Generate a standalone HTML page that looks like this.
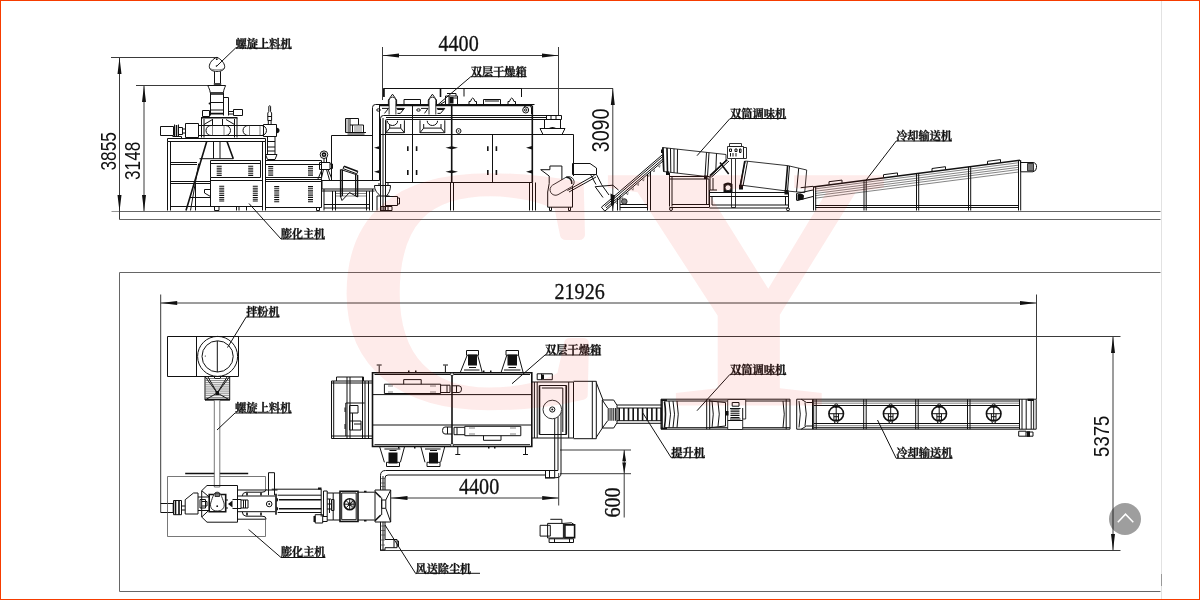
<!DOCTYPE html>
<html lang="zh">
<head>
<meta charset="utf-8">
<title>膨化食品生产线布置图</title>
<style>
html,body{margin:0;padding:0;background:#fff;}
body{width:1200px;height:600px;overflow:hidden;position:relative;font-family:"Liberation Sans","Noto Sans CJK SC",sans-serif;}
#frame{position:absolute;left:0;top:0;width:1198px;height:598px;border:1px solid #f63c00;}
#edge{position:absolute;left:1161px;top:1px;width:1px;height:598px;background:#e2e2e2;}
#edgemark{position:absolute;left:1161px;top:574px;width:1px;height:12px;background:#999;}
#totop{position:absolute;left:1109px;top:503px;width:32px;height:32px;border-radius:16px;background:rgba(0,0,0,.38);}
svg{position:absolute;left:0;top:0;will-change:transform;}
.l{fill:none;stroke:#111;stroke-width:1;}
.t{fill:none;stroke:#333;stroke-width:.6;}
.k{fill:#111;stroke:none;}
.v{fill:none;stroke:#111;stroke-dasharray:1 .85;}
.d{fill:none;stroke:#111;stroke-width:1.6;}
.g{fill:#777;stroke:#111;stroke-width:.8;}
.w{fill:#fff;stroke:#1c1c1c;stroke-width:.9;}
.cn{font-family:"Liberation Serif","Noto Serif CJK SC",serif;font-weight:700;font-size:11.4px;fill:#111;stroke:#111;stroke-width:.3;}
.ds{font-family:"Liberation Serif",serif;fill:#111;stroke:#111;stroke-width:.3;}
.dn{font-family:"Liberation Sans",sans-serif;fill:#111;}
.wm{font-family:"Liberation Serif",serif;fill:#f02010;}
</style>
</head>
<body>
<svg id="dwg" width="1200" height="600" viewBox="0 0 1200 600">
<!-- FRAMES -->
<g id="frames" class="l" style="stroke:#666">
<path d="M119.5 211.5H1160.5M119.500 219.5H1160.5"/><path d="M111.500 211.500H119.500" stroke-width=".7"/>
<path d="M1160.5 272.500H119.500V591.5H1160.5"/>
</g>
<!-- DIMENSIONS -->
<g id="dims">
<g class="l" style="stroke:#3a3a3a">
<path d="M111 57.500H218M119.5 57.500V219.5"/>
<path d="M136 85.500H210M144 85.500V211"/>
<path d="M382.500 47V100M558.500 47V116M382.500 55.500H558.500"/>
<path d="M521 88.500H613M612.800 88.500V211"/>
<path d="M160.700 294.5V512.500M1036.500 294.5V399M160.700 303H1036.500"/>
<path d="M238 336.500H1120.5M380 550.500H1120.5M1113 336.500V550.500"/>
<path d="M391 498H558.7M558.7 473V505.5M560 450H631M560 473.7H631M624.2 450V517.5"/>
</g>
</g>
<g id="dimtext">
<text class="ds" transform="translate(438.5 51) scale(.89 1)" font-size="22.6">4400</text>
<text class="ds" transform="translate(554.5 299) scale(.89 1)" font-size="22.6">21926</text>
<text class="ds" transform="translate(459 493.7) scale(.89 1)" font-size="22.6">4400</text>
<text class="ds" transform="translate(620 517.5) rotate(-90) scale(.89 1)" font-size="22.6">600</text>
<text class="dn" transform="translate(116 170.5) rotate(-90) scale(.8 1)" font-size="21.6">3855</text>
<text class="dn" transform="translate(140 180) rotate(-90) scale(.8 1)" font-size="21.6">3148</text>
<text class="dn" transform="translate(609.4 152.3) rotate(-90) scale(.83 1)" font-size="23.7">3090</text>
<text class="dn" transform="translate(1108.7 456.9) rotate(-90) scale(.86 1)" font-size="21.6">5375</text>
</g>
<g id="arrows" class="k">
<path d="M119.5 57.500l-2 16.5h4zM119.5 211.500l-2-16.5h4zM144 85.500l-2 16.5h4zM144 211.500l-2-16.5h4z"/>
<path d="M382.500 55.500l16.5-2v4zM558.500 55.500l-16.5-2v4z"/>
<path d="M612.800 88.500l-2 16.5h4zM612.800 211.500l-2-16.5h4z"/>
<path d="M160.7 303l16.5-2v4zM1036.500 303l-16.5-2v4z"/>
<path d="M1113 336.500l-2 16.5h4zM1113 550.500l-2-16.5h4z"/>
<path d="M391 498l16.5-2v4zM558.7 498l-16.5-2v4z"/>
<path d="M624.2 450l-2.1 12.500h4.2zM624.2 473.7l-2.100-12.500h4.200z"/>
</g>
<!-- LABELS -->
<!-- MACHINES -->
<!-- m_01_extruder_elev.svg -->
<g id="extruder-elev">
<!-- screw feeder head and hopper -->
<path class="l" d="M216.8 57.4C213 58.5 209.2 63 209.3 66.6C209.5 70.2 213 71.4 217 71.4C221 71.4 224.6 70.2 224.7 66.6C224.6 63 220.5 58.5 216.8 57.4Z"/>
<path class="t" d="M210 68.5C212 70.3 222 70.3 224 68.5"/>
<circle class="k" cx="216.8" cy="59.2" r=".9"/><circle class="k" cx="216.4" cy="66" r=".7"/>
<path class="l" d="M214.5 71.4V83M220.5 71.4V83"/>
<path class="d" d="M213.8 84H221.2"/>
<path class="l" d="M207.8 85.5H225.6C224.6 88 223.6 90 223.4 92.7H210.2C210 90 208.8 88 207.8 85.5Z"/>
<path class="l" d="M210.5 92.7V115.5M223.5 92.7V115.5M210.5 102.5H223.5M210.5 110H223.5"/>
<path class="d" d="M210.5 94H223.5M210.5 113.6H223.5"/>
<path class="l" d="M223.5 97.5H228.5V115.5M233.5 109.5H242.5V115.5H233.5ZM229 111.5H233.5M229 114H233.5M202.5 110.5H209.5V116.5H202.5Z"/>
<circle class="k" cx="209.6" cy="103.5" r="1"/>
<!-- feeder stand -->
<path class="d" d="M201 117.8H237.5"/>
<path class="l" d="M201.5 118V137.5M204 119V137.5M234.5 119V137.5M237 118V137.5M204 124.5L212.5 119.5M234.5 124.5L226 119.5M212.5 119V125M222.5 119V125"/>
<!-- barrel -->
<path class="l" d="M160.5 126.5H173.5V135.5H160.5ZM174.5 124.5V137M178.5 124.5V137M178.5 127.5H182.5V134.5H178.5M182.5 129H186M182.5 133H186M172.5 136.5H181.5V138.5"/>
<path class="d" d="M176.5 125V136.5"/>
<path class="l" d="M185.5 123.5H198.5V137.5H185.5ZM198.5 125.5H263.5M198.5 135.5H263.5"/>
<path class="l" d="M211 125.5H225.5A5 5 0 0 1 225.5 135.5H211A5 5 0 0 1 211 125.5ZM248 125.5H261.5A5 5 0 0 1 261.5 135.5H248A5 5 0 0 1 248 125.5Z"/>
<path class="t" d="M212.5 125.5V135.5M224 125.5V135.5M249.5 125.5V135.5M260 125.5V135.5"/>
<path class="l" d="M263.5 124.5H276.5V136.5H263.5Z"/>
<path class="k" d="M276.5 127.5C280.5 128 280.5 133 276.5 133.5Z"/>
<!-- relief valve -->
<path class="l" d="M268.8 106.5C268.8 105.5 270.6 105.5 270.6 106.5V111.5L271.6 113V120.5H267.8V113L268.8 111.5ZM268.3 120.5V124.5M271.1 120.5V124.5M267.8 116.5H271.6"/>
<!-- discharge below die -->
<path class="l" d="M267.5 136.5V154.5M275 136.5V154.5M267.5 141.5H275M267.5 147H275M267.5 151H275M265.5 154.5H277L275 159.5H267.5Z"/>
<!-- platform frame -->
<path class="l" d="M167.5 138.5H265.5V141.5H167.5ZM167.5 141.5V210.5M170.5 141.5V210.5M262.5 141.5V210.5M265.5 141.5V210.5"/>
<path class="l" d="M170.5 162.5H197M170.5 164.5H197M170.5 181.5H211M170.5 183.5H211M170.5 206.5H211"/>
<!-- chute and ladder -->
<path class="d" d="M206.7 141.5L186 210.5M227 141.5L233.3 158.7"/>
<path class="l" d="M213.5 141.5V158.7M220 141.5V158.7M199.5 158.7H233.3M198.7 163.5L190.5 210.5M190 197.5H210.5M195.5 183.5V210.5"/>
<!-- control cabinets -->
<path class="l" d="M210.5 160.5H260.5V177.5H210.5ZM210.5 163.5H260.5M210.5 180.5H262.5M210.5 177.5V206.5H262.5"/>
<path class="v" stroke-width="5" d="M219.2 165.8V176M250.7 165.8V176M221.7 185.8V202.6M255.3 185.8V202.6"/>
<path class="l" d="M204.5 189.5H210.5V196.5L204.5 193Z"/>
<path class="l" d="M214.5 206.5V210.5H219V206.5M236.5 206.5V210.5M239 206.5V210.5M246.5 206.5V210.5"/>
<path class="l" d="M265.5 160.5H321.5V177.5H265.5M265.5 164.5H321.5M265.5 179.5H321.5V207.5H265.5M265.5 181.5H321.5"/>
<path class="v" stroke-width="5" d="M270.7 166V176M310.5 166V176M276.7 186V203M310.5 186V203"/>
<path class="l" d="M316.5 207.5V210.5H319.5V207.5"/>
</g>

<!-- m_02_cutter_hood.svg -->
<g id="cutter-hood-elev">
<!-- cutter -->
<circle class="l" cx="324" cy="154.7" r="3.8"/><circle class="d" cx="324" cy="154.7" r="1.6"/>
<path class="l" d="M319.5 162.5H330V169.5H319.5ZM324 158.5V162.5M326.5 158V162.5M330 164H332.5V168.5H330M322 169.5L317.5 180M323.5 169.5L321 180M326.5 169.5L329.5 180M328 169.5L331.5 178"/>
<!-- hood box with fan -->
<path class="l" d="M331.5 180V135.5H372.5"/>
<path class="l" d="M346 132.5H366M347.5 134H364.5M345.5 118.5H350V132.5H345.5ZM350 118.5H358.5V125H363.5V132.5M350 125H358.5M352.5 125V132.5"/>
<path class="t" d="M347 118.5V132.5M348.5 118.5V132.5M354 127H362M354 129H362M354 131H362"/>
<!-- transfer conveyor -->
<path class="l" d="M322 180.5H374.5M322 180.500V189H374.5M322 191H374.5M324 204.500H370M324 208H370M324 189V210.500M332.500 191V210.500M335.500 191V210.500M366.500 191V210.500M369.500 191V210.500M372.500 189V210.500"/>
<path class="t" d="M336 193.500H366M336 196H366"/>
<!-- tilting guard -->
<path class="d" d="M340.700 169.500V197M357.500 175V197M344 166.200L357.800 171.400"/>
<path class="l" d="M343 168.600L356.800 173.800M344 166.200L343 168.600M357.800 171.400L356.800 173.800M340.700 169.500L357.500 175M340.700 197L342 200.500L349.500 192.500L357.500 197M342.500 169.500V196M355.500 174.500V196"/>
</g>

<!-- m_03_dryer_elev.svg -->
<g id="dryer-elev">
<!-- handrail -->
<path class="l" d="M383.500 88.500H521.500V97M383.500 88.500V96.500M440.500 88.500V96.500M464 88.500V96.500"/>
<!-- left column & riser pipe -->
<path class="l" d="M372.500 180.500V107.500Q372.500 104.500 375.500 104.500H534.500M379.500 106V180.500M372.500 180.500H379.500"/>
<path class="l" d="M380.500 211V118.500Q380.500 115.500 383.500 115.500H561.500M385.500 211V120.500Q385.500 119.500 386.500 119.500H561.500M383 211V118M386 117.500H546"/>
<path class="d" d="M379 105.500H532"/>
<ellipse class="l" cx="378.500" cy="110" rx="1.800" ry="1.200"/><ellipse class="l" cx="418.500" cy="110" rx="1.800" ry="1.200"/>
<!-- roof vents -->
<path class="l" d="M388.4 104.500V100L392.5 94.200L396.6 100V104.500"/><path class="w" d="M389.1 114.500V100.500A3.400 3.400 0 0 1 395.9 100.500V114.500"/><path class="l" d="M387.3 120.800A5.200 4.700 0 0 0 397.7 120.800"/>
<path class="l" d="M428.3 104.500V100L432.4 94.200L436.5 100V104.500"/><path class="w" d="M429.0 114.500V100.500A3.400 3.400 0 0 1 435.8 100.500V114.500"/><path class="l" d="M427.2 120.800A5.200 4.700 0 0 0 437.6 120.800"/>
<path class="l" d="M404 104.500V99.500H420.500V104.500"/>
<path class="d" d="M384 88.500V97M440.500 88.500V97"/>
<path class="l" d="M469 104.500V101.500H470.500Q472.700 94.500 475 101.500H476.500V104.500M508 104.500V101.500H509.500Q511.700 94.500 514 101.500H515.500V104.500M483.500 104.500V99.500H500.500V104.500M485 101H499"/>
<path class="l" d="M445.500 96V104.500H457.500V96ZM449 96V104.500M453 98H457.500M447 93.500H456V96"/>
<path class="k" d="M449.500 97H453.500V103.500H449.500Z"/>
<path class="l" d="M440 104.500L446 101M458 104.500H470"/>
<!-- hoods -->
<path class="l" d="M386 120.300V132.700H404.400V120.300M386 132.700L389.700 128.100H400.700L404.400 132.700M389.700 128.100V124M400.700 128.100V124M420 120.300V132.700H444.800V120.300M420 132.700L423.700 128.100H441L444.800 132.700M423.700 128.100V124M441 128.100V124"/>
<path class="l" d="M382 108.400H388.500L384.500 113.400M396.600 108.400H404.400L400.300 113.400H397.500M421 108.400H428L424.500 113.400M436.800 108.400H444.800L440.500 113.400H437.500"/>
<path class="k" d="M396.600 108.400H404.400L403 110H397.500ZM436.800 108.400H444.800L443.400 110H437.700Z"/>
<!-- body -->
<path class="l" d="M379.500 134.500H573.500V176M385.500 182.500H532.500M412.500 105.500V182.500M492.500 134.500V182.500"/>
<path class="d" d="M451.700 105.500V182.500M532.300 105.500V182.500"/>
<circle class="l" cx="458.600" cy="131" r="2.400"/><circle class="k" cx="458.600" cy="131" r=".8"/>
<path class="d" d="M407.800 146.300V151M416.600 146.300V151M407.800 170V175M416.600 170V175M487.800 146.300V151M496.400 146.300V151M487.800 170V175M496.400 170V175"/>
<path class="k" d="M445.500 147.800L451.700 146.300L458 147.800L451.700 149.300ZM445.500 171.700L451.700 170.200L458 171.700L451.700 173.200ZM526 147.800L532 146V149.600ZM526 171.700L532 170V173.500ZM380 146L374 147.800L380 149.600ZM380 170L374 171.700L380 173.500Z"/>
<path class="l" d="M450.500 182.500V210.500M453.500 182.500V210.500M529.500 182.500V210.500M532.500 182.500V210.500M535.500 182.500V210.500"/>
<!-- pulley and right end -->
<circle class="l" cx="525.700" cy="110" r="3"/><circle class="l" cx="525.700" cy="110" r="1.200"/>
<path class="l" d="M524 107L528 104.500Q531 105 531.500 108V114"/>
<path class="l" d="M546.500 115.500V119.500M551 115.500V119.500M556 115.500V119.500M561.500 115.500V119.500M544.500 119.500V128.500M560.500 119.500V128.500M540 128.500H565L562 134.500H543Z"/>
<path class="k" d="M548 128.500Q552.500 125.500 557 128.500Z"/>
<!-- cyclone -->
<path class="l" d="M374.500 185.500H390.500M374.500 185.500C374.500 190 377 193 380.500 196M390.500 185.500C390.500 190 389 193 386.500 196M377 196H389.500M377 196V210.500M379 183V185.500M388 183V185.500M385.500 196.500H397.500V205.500H385.500M397.500 198H399.500V204H397.500"/>
<path class="l" stroke="#b55" d="M381 206.500H392V210.500H381ZM384 206.500V210.500M388 206.500V210.500"/>
</g>

<!-- m_04_crusher_elevator.svg -->
<g id="crusher-elev">
<path class="l" d="M540.700 169.700H549.900V166H561.900V180M540.700 169.700L549.200 176V183.500M547.700 192V207.200H572.500V181.500M547.700 192L549.200 183.500M549.500 207.200V210.500H551.500V207.200M568.500 207.200V210.500H570.500V207.200"/>
<path class="w" d="M552.500 185.200L566.200 177.200A5.500 5.500 0 0 1 571.700 186.700L558 194.700A5.500 5.500 0 0 1 552.500 185.200Z"/>
<path class="d" d="M566.200 177.200A5.500 5.500 0 0 1 571.700 184"/>
<path class="l" d="M572.500 163.500H590L596.500 168V174.500H572.500ZM567.500 190.500L594.500 175.300M569 192L596 177M596.500 174.500L601.600 184.500M590.500 174.500L596 184.500"/>
</g>
<g id="elevator-elev">
<path class="l" d="M601.4 207.2L662.3 154.8 M604.7 206.5L663.3 156.0 M606.0 208.0L664.6 157.5 M604.8 211.1L665.7 158.7"/>
<path class="t" d="M615.4 202.0l1.6 1.9l.6-2.6M620.7 197.4l1.6 1.9l.6-2.6M626.0 192.9l1.6 1.9l.6-2.6M631.3 188.3l1.6 1.9l.6-2.6M636.6 183.7l1.6 1.9l.6-2.6M641.9 179.2l1.6 1.9l.6-2.6M647.2 174.6l1.6 1.9l.6-2.6M652.5 170.1l1.6 1.9l.6-2.6M657.9 165.5l1.6 1.9l.6-2.6"/>
<path class="l" d="M601.4 207.2L604.8 211.1M662.3 154.8L665.7 158.7"/>
<path class="l" d="M595.200 186.700L612.900 185.200L618.600 190.200M595.200 186.700L603 197.500M601.500 184.500L609 195"/>
<path class="k" d="M610.500 193.500L614.500 195.500L613.500 205L611 205Z"/>
<path class="l" d="M617.500 198V210.500M620 196V210.500M620 204.500H647.500M620 207.500H647.500M647.500 174V210.500M650.500 171.500V210.500"/>
<circle class="g" cx="624.300" cy="201.500" r="2.800"/>
</g>
<!-- m_05_drums_elev.svg -->
<g id="drums-elev">
<!-- drum 1 -->
<path class="w" d="M662.500 147.500L726 154.500V160L710.500 177L663.500 171.500Z"/>
<path class="d" d="M663 147.500L663.800 171.500M667 148L667.500 172"/>
<path class="l" d="M670.500 148.400L670.800 172.400M674 148.800L674 172.800M677.500 149.200L677.300 173.200M706.500 152.400L705 176.400M709 152.700L707.500 176.600M716.500 153.500L715.800 171"/>
<path class="k" d="M661 149.500H663V153H661ZM666 171.500H669V175H666ZM704 175.500H707.500V179H704Z"/>
<!-- drum 1 stand -->
<path class="l" d="M669.500 176.500H709M669.500 179H709M669.500 173V206.500M672 176.500V206.500M706.500 179V204.500M709 179V204.500M672 204.500H709M669.500 207.500H709"/>
<circle class="l" cx="671" cy="209" r="1.500"/>
<!-- drum 2 -->
<path class="w" d="M745.300 161L788 165.700L806.700 170L804.700 192.600L786.700 191L740 185Z"/>
<path class="d" d="M744.800 161L740.500 185.500M787.600 165.700L785.500 191"/>
<path class="l" d="M747.500 161.300L743 186M789.500 166L787.500 191.200M798.700 168.200L796.500 192"/>
<path class="k" d="M739 185H743V189.500H739ZM784.500 190H788.500V194.500H784.500Z"/>
<!-- control box -->
<path class="w" d="M727.500 146.500H743.500V158.500H727.500ZM743.500 147.500H746.500V158.500H743.500ZM729.500 143.500H741.500V146.500H729.500Z"/>
<path class="l" d="M729.500 149H731.500V151.500H729.500ZM735 149H737V151.500H735ZM739.500 149H741V152.500H739.500ZM730.500 153V156.500M733 153V156.500M736 153V156.500"/>
<!-- post and braces -->
<path class="d" d="M727.300 159.700L710 175.700M720 162.500L728.700 174"/>
<path class="l" d="M729 161L711.500 177.200"/>
<path class="w" d="M731.500 158.500H735.500V207.500H731.500Z"/>
<path class="l" d="M710 175.700V190H717M713 178V190"/>
<!-- drive -->
<path class="k" d="M723.500 184Q728 181 732.500 184V192H723.500Z"/>
<circle class="w" cx="728" cy="187.700" r="3"/>
<!-- drum 2 stand -->
<path class="l" d="M709.500 192.500H788.500M709.500 196.500H788.500M709.500 190V207.500M712 196.500V205M785.500 196.500V205M788.500 192.500V207.500M712 205H788.500M709.500 208H788.500"/>
<circle class="l" cx="788" cy="209.300" r="1.500"/>
</g>

<!-- m_06_cooling_elev.svg -->
<g id="cooling-elev">
<path class="d" d="M813 187.0L1020 160.3"/>
<path class="t" d="M815 188.9L1018 162.8M815 191.3L1018 165.2M815 193.5L1018 167.4M815 195.7L1018 169.6M815 198.2L1018 172.1"/>
<path class="l" d="M813.5 186.9V210.500M815.7 186.7V210.500M864 180.4V210.500M866.2 180.1V210.500M916.5 173.7V210.500M918.7 173.4V210.500M968.5 166.9V210.500M970.7 166.7V210.500M1018.5 160.5V210.500M1020.7 160.2V210.500M815.500 205.500H1018.500M815.500 207.500H1018.500"/>
<path class="l" d="M829 184.4V181.7L842 180.1V182.8M883.5 177.4V174.7L897.5 172.9V175.6M932 171.2V168.5L945.5 166.7V169.4M987.5 164.0V161.3L1000.5 159.6V162.3"/>
<path class="l" d="M800.700 187.700L813 186.300M796.500 193.500L813 190M797 200.500L813 196.500M796.500 193.500V200.500"/>
<path class="k" d="M797.500 194.500Q801 192 804 195.500L803.500 199.500L797.500 200.500Z"/>
<path class="l" d="M1020.500 160.500V171.500M1021 162.500H1033Q1037 163 1036.500 167.500Q1036.500 171 1033 171.800H1021"/>
<path class="g" d="M1027.500 163.500H1033.500V170.800H1027.500Z"/>
</g>
<!-- m_07_plan_left.svg -->
<g id="mixer-plan">
<path class="l" d="M167.500 336.500H238.500V376.500H167.500ZM196.500 336.500V376.500"/>
<circle class="l" cx="217.600" cy="356.400" r="20"/><circle class="l" cx="217.600" cy="356.400" r="15.600"/>
<path class="l" d="M217.300 341V372"/><circle class="k" cx="205.300" cy="356" r=".6"/>
<path class="l" d="M205 376.500H229.700V400H205ZM214 376.500L215 378.500H220L221 376.500M205 376.500L217.300 393L229.700 376.500M208 377L217.300 393L227 377M205 400L217.300 393L229.700 400"/>
<path class="t" d="M205.500 378.5H229.500M205.500 380.6H229.500M205.500 382.7H229.500M205.500 384.8H229.500M205.500 386.9H229.500M205.500 389.0H229.500M205.500 391.1H229.500M205.500 393.2H229.500M205.500 395.3H229.500M205.500 397.4H229.500"/>
<path class="k" d="M215.500 391H219V395H215.500Z"/>
<path class="d" d="M205 399.500H229.700"/>
</g>
<g id="extruder-plan">
<path class="l" d="M160.700 503.500H173.200V512.500H160.700M173.500 500.500H181.500V514.700H173.500ZM181.500 506H185.200M181.500 510H185.200"/>
<path class="d" d="M175.500 500.500V514.700M179 500.500V514.700"/>
<path class="l" d="M185.200 499.700L193.500 493H198V514H185.200Z"/>
<path class="l" style="stroke:#555;stroke-width:.8" d="M167.500 476.500H265.500V489M265.500 518.500V536.500H167.500V476.500"/>
<path class="d" stroke-width="2" d="M185.200 473.500H248.200"/>
<!-- feeder tube -->
<path d="M214.300 400.500V487H219.800V400.500" fill="#fff" stroke="#555" stroke-width=".8"/>
<path class="l" d="M207 485.500H237.500V522.200H207L201.700 517V490.700ZM201.700 490.700L209.200 497M201.700 517L209.200 510"/>
<path class="l" d="M198 497H209.200M198 510.500H209.200M200 499.500H205.500V508H200ZM202 501.500H207V506H202"/>
<path class="d" d="M209.200 494.500H225.700V511.700H209.200Z"/>
<path class="w" d="M217.300 492.200C220.500 492.200 221.500 496 224 503C225 508 222 511 217.300 511C212.500 511 209.700 508 210.700 503C213 496 214 492.200 217.300 492.200Z"/>
<path class="g" d="M215 493H219.500V496.500H215Z"/>
<circle class="k" cx="217.200" cy="506.200" r=".9"/>
<path class="k" d="M228 504L232.500 500.500V507.500Z"/>
<path class="l" d="M225.700 500H228M225.700 508H228M232.500 499.500H241V508.500H232.500M241 500H248V508H241M243.500 500V508M245.500 500V508"/>
<!-- barrel -->
<path class="l" d="M237.500 496H275.200M237.500 511.700H275.200M237.500 490H277.500M237.500 519.200H265.500"/>
<path class="l" d="M242.200 496Q242.500 492.500 246 492.200H262Q266 492.500 266.200 489M242.200 511.700Q242.500 515.800 246 516.200H262Q266 515.800 266.200 519.200"/>
<path class="d" d="M247 492.500V495.500M261 492.500V495.500M247 512.500V515.500M261 512.500V515.500"/>
<circle class="l" cx="269.200" cy="504" r="2.800"/><circle class="k" cx="269.200" cy="504" r=".9"/>
<path class="l" d="M268.500 495.200V472.700H274.500V495.200"/>
<path class="d" d="M276 493.700V514.700"/>
<path class="k" d="M276.500 497.500Q280 499.700 276.500 502ZM276.500 506.500Q280 508.700 276.500 511Z"/>
<!-- tie rods -->
<path class="l" d="M271.700 489.200H321.200M277.700 495.200H321.200M277.700 512.500H321.200"/>
<path class="d" d="M279 499.700H321.200M279 508.700H321.200"/>
<!-- die head -->
<path class="l" d="M321.200 489.200V516.500M323.500 491V516.500H327.200V491ZM327.200 493H333.200V520H327.200M327.200 499H331M327.200 504H331M327.200 509H331M329.500 499V513"/>
<path class="l" d="M315.200 514.700H322.700V523H315.200ZM322.700 516.500H327.200V521.500H322.700"/>
<path class="k" d="M318 487.500H321.500V489.500H318ZM313.500 516H315.500V522H313.500Z"/>
<path class="l" d="M331.500 499.500H334V510.500H331.500ZM333.200 493H340M333.200 520H340"/>
<!-- cutter housing -->
<path class="d" d="M340 491.200H358V521.500H340Z"/>
<path class="l" d="M341.700 493H356.200V519.700H341.700Z"/>
<circle class="d" cx="349.700" cy="504.200" r="5.500"/><circle class="l" cx="349.700" cy="504.200" r="1.400"/>
<path class="l" d="M349.700 499.200V509.200M344.700 504.200H354.700M346.200 500.700L353.200 507.700M353.200 500.700L346.200 507.700"/>
<path class="t" d="M352 500V509M353.500 501V508M355 502.500V506"/>
<!-- hood box -->
<path class="l" d="M358 492.200H374.500M358 520H374.500"/>
<path class="k" d="M364 490.700H366.500V492.200H364ZM364 520H366.500V521.500H364Z"/>
</g>
<g id="dust-duct-plan">
<path class="l" d="M375 490H390.700V522H375ZM390.700 490L385.800 500M390.700 522L385.800 508.300M381.700 500H385.800V508.300H381.700ZM381.700 497.500V515"/>
<path class="d" d="M375 491.700L380.800 497.500M375 520.800L380.800 515"/>
<path class="l" d="M380.500 490V475.500Q380.500 470.500 385.500 470.500H558M385 490V478Q385 475 388 475H545M383 490V476"/>
<path class="t" d="M380.500 478.500H385M380.500 483H385M380.500 486.500H385"/>
<path class="l" d="M545.500 470.500V478M549.500 470.500V478M545 478H554.700V418.500M561 412V473.500Q561 477.700 556 477.700H545M558 470.500V417"/>
<path class="l" d="M380.500 521.800V550M385 521.800V539.500M383 521.800V550M380.500 550H385V547.700"/>
<path class="t" d="M380.500 526H385M380.500 530.500H385M380.500 535H385M380.500 540H385M380.500 545H385"/>
<path class="l" d="M385 539.500H397V547.700H385M394 539.500V547.700M397 541H398.500V546H397"/>
<path class="l" d="M540.100 525.300H550.300V536.100H540.100ZM547.600 523.400H563.400V538H547.600ZM550.300 519.300H561.900V523.400M549.100 538.800H573.500V542.500H549.100ZM554.500 538.800V542.500M569.500 538.800V542.500M563.400 523.400L571.500 522.800L574.600 524.900"/>
<path class="d" d="M564.900 524.900H574.600V537.600H564.900Z"/>
</g>
<!-- m_08_dryer_plan.svg -->
<g id="dryer-plan">
<!-- inlet spreader -->
<path class="l" d="M331.500 381H372.500M331.500 381V438.500H372.500M333.700 381V438.500M336.500 381V377H363.500V381M331.500 383H372.500M331.500 436H372.500M347 377V438.500M350 377V438.500M362.500 377V438.500M365 381V438.500M368.500 381V438.500"/>
<path class="l" d="M345.800 403H364.600M345.800 403V436M349.500 405.500H358V413H349.500ZM349.500 413V430M352.500 413V430M349.500 421H361V430H349.500M354 424H361M345 407.500V412M345 424V429"/>
<!-- main body -->
<path class="d" d="M372.500 372.700H531.800V446.500H372.500ZM452 372.700V446.500"/>
<path class="l" d="M374.500 374.500H450M454 374.500H530M374.500 444.700H450M454 444.700H530M372.500 394.600H531.800M372.500 425H531.800"/>
<circle class="w" cx="452" cy="374.200" r="1.500"/><circle class="w" cx="452" cy="445" r="1.500"/>
<!-- upper-left burner tube -->
<path class="l" d="M384.400 384.200H440.600V393.500H384.400ZM403.700 384.200V379.600H421.200V384.200M440.600 385.200H450V392.500H440.600M447 385.200V392.500M452 385.800H459Q461.500 385.800 461.500 389.100Q461.500 392.500 459 392.500H452M456.500 385.800V392.500"/>
<path class="t" d="M388 386H393M430 386H436M388 392H393M430 392H436"/>
<!-- lower-right burner tube -->
<path class="l" d="M464.800 426.300H520.800V435.700H464.800ZM483.500 435.700V440.300H501V435.700M464.800 427.300H454V434.700H464.800M457 427.300V434.700M452 427H445Q442.500 427 442.500 430.500Q442.500 434 445 434H452M447.500 427V434"/>
<path class="t" d="M469 434H475M510 434H516M469 428H475M510 428H516"/>
<!-- top pins / feet -->
<path class="l" d="M379.200 372.700V365.500M376.700 365H381.700M445.400 372.700V365.500M443 365H448M457.800 446.500V454M455.300 454.500H460.300M525.500 446.500V454M523 454.500H528"/>
<path class="k" d="M408 370.500H409.500V372.500H408ZM415 370.500H416.500V372.500H415ZM488 446.500H489.500V448.500H488ZM494 446.500H495.500V448.500H494ZM483 370.500H484.500V372.500H483ZM490 370.500H491.500V372.500H490ZM398 446.500H399.500V448.500H398ZM414 446.500H415.500V448.500H414Z"/>
<!-- bottom fans -->
<path class="l" d="M379.600 446.500L384.400 462.300M404.600 446.500L400.400 462.300M420.800 446.500L425 462.300M444.800 446.500L440.600 462.300M384.400 449H400.400M425 449H440.600"/>
<path class="k" d="M388.500 452.500H397.500V463.500H388.500ZM429 452.500H438V463.500H429Z"/>
<path class="l" d="M386.500 462.300H399.500V466.500H386.500ZM427 462.300H440V466.500H427ZM389.500 450.500H396.500M430 450.500H437"/>
<!-- top fans -->
<path class="l" d="M460.200 372.700L467.200 355.200M482.300 372.700L477.700 355.200M501 372.700L506.800 355.200M523.200 372.700L518.500 355.200M464 370H479.500M504 370H520.500"/>
<path class="k" d="M468 354.500H477V365.500H468ZM507.500 354.500H517V365.500H507.500Z"/>
<path class="l" d="M466.500 350.500H478.500V355.200H466.500ZM506 350.500H518.500V355.200H506ZM469 367.500H476M508.500 367.500H516"/>
<!-- small motor -->
<path class="l" d="M537.200 373.800H552.300V379.700H537.200ZM541.500 373.800V379.700"/>
<path class="k" d="M541.500 374.500H544V379H541.500Z"/>
<!-- outlet section -->
<path class="l" d="M531.800 382H573.500V438H531.800M534.400 382V438M537.200 382V438M568.700 382V438M539.500 385.500H566.300V434.500H539.500ZM541.800 388H562.800V432"/>
<path class="d" d="M539.500 385.500V434.500M566.300 385.500V434.500"/>
<circle class="w" cx="552.300" cy="409.500" r="9.300"/><circle class="l" cx="552.300" cy="409.500" r="2.600"/><circle class="k" cx="552.300" cy="409.500" r="1"/>
<!-- cone -->
<path class="l" d="M573.500 381.300H596.300V438.700H573.500M592.300 381.300V438.700M596.300 382.700L603 400M596.300 437.300L603 427"/>
<path class="l" d="M602.300 400H613.700L617 405.300V422.700L613.700 428H602.300ZM602.300 400L607.700 408M602.300 428L607.700 420.700"/>
<path class="v" stroke-width="12.700" stroke-dasharray="1.100 1.300" d="M607.700 414.350H617"/>
</g>

<!-- m_09_plan_right.svg -->
<g id="elevator-plan">
<path class="l" d="M617 405H661.700M617 408H661.700M617 420.700H661.700M617 423.300H661.700"/>
<path class="d" stroke-width="1.700" d="M619.2 408V420.700M623.9 408V420.700M628.5 408V420.700M633.2 408V420.700M637.9 408V420.700M642.6 408V420.700M647.2 408V420.700M651.9 408V420.700M656.6 408V420.700M661.2 408V420.700"/>
</g>
<g id="drums-plan">
<path class="l" d="M661 399.200H790V429.200H661ZM664 401H790M664 427.700H790"/>
<path class="d" d="M662 400V428.500M664.500 401.500Q666.500 414 664.500 427"/>
<path class="k" d="M661 399.200H667V401H661ZM661 427.500H667V429.200H661Z"/>
<path class="l" d="M669 401Q672 414 669 427.700M673 401Q676 414 673 427.700M677 401Q679.500 414 677 427.700M706.700 399.200V429.200M709.700 399.200V429.200M712 401Q714.500 414 712 427.700M718 402Q720.500 414 718 426.500M709.700 401L725.500 402.500M709.700 427.700L725.500 426M725.500 402.500V426"/>
<path class="w" d="M727.700 399.500H745.700V419H742.700V429.500H727.700Z"/>
<path class="l" d="M727.700 420.500H742.700M732.200 402.500H739V406.200H732.200ZM730 408.500H740.500M730 419H740.500M742.700 408V419"/>
<path class="v" stroke-width="9" stroke-dasharray=".9 .9" d="M735 409.500V418.500"/>
<path class="k" d="M726 411H728.500V415.500H726Z"/>
<path class="l" d="M783 401Q785.500 414 783 427.700M786.200 399.200V429.200"/>
</g>
<g id="cooling-plan">
<path class="l" d="M796.700 399.200H801.200M801.200 399.200H1036.200M796.700 429.200H1036.200M796.700 399.200V429.200M799 401Q801.500 414 799 427.500M805 402.500Q807.500 414 805 426M801.200 399.200L806.500 402.500H812.500M801.200 429.200L806.500 426H812.500M812.500 399.200V429.200"/>
<path class="l" stroke-width=".8" d="M814 401H1020M814 405.500H1020M814 423.500H1020M814 427.700H1020"/><path class="t" d="M814 403.200H1020M814 425.700H1020"/>
<path class="l" d="M813.7 399.200V429.200M816.2 399.200V429.200M863.7 399.200V429.200M866.2 399.200V429.200M915.7 399.200V429.200M918.2 399.200V429.200M967.5 399.200V429.200M970.0 399.200V429.200M1019.5 399.200V429.200M1022.0 399.200V429.200"/>
<circle class="d" cx="836.2" cy="413.7" r="7.300"/><circle class="l" cx="836.2" cy="405.7" r="1.800"/><circle class="l" cx="836.2" cy="421.7" r="1.800"/>
<path class="l" d="M836.2 406.4V421.0M828.9000000000001 413.7H843.5M833.9000000000001 413.7V420.2H838.5V413.7M833.9000000000001 416.7H838.5"/>
<circle class="d" cx="890.7" cy="413.7" r="7.300"/><circle class="l" cx="890.7" cy="405.7" r="1.800"/><circle class="l" cx="890.7" cy="421.7" r="1.800"/>
<path class="l" d="M890.7 406.4V421.0M883.4000000000001 413.7H898.0M888.4000000000001 413.7V420.2H893.0V413.7M888.4000000000001 416.7H893.0"/>
<circle class="d" cx="939.2" cy="413.7" r="7.300"/><circle class="l" cx="939.2" cy="405.7" r="1.800"/><circle class="l" cx="939.2" cy="421.7" r="1.800"/>
<path class="l" d="M939.2 406.4V421.0M931.9000000000001 413.7H946.5M936.9000000000001 413.7V420.2H941.5V413.7M936.9000000000001 416.7H941.5"/>
<circle class="d" cx="993.7" cy="413.7" r="7.300"/><circle class="l" cx="993.7" cy="405.7" r="1.800"/><circle class="l" cx="993.7" cy="421.7" r="1.800"/>
<path class="l" d="M993.7 406.4V421.0M986.4000000000001 413.7H1001.0M991.4000000000001 413.7V420.2H996.0V413.7M991.4000000000001 416.7H996.0"/>
<path class="l" d="M1026.200 399.200V429.200M1031.200 401V429.200M1033.700 399.200V429.200M1036.200 399.200V429.200M1018.700 431.200H1026V436.200H1018.700ZM1026 432H1033V436.200H1026"/>
<path class="k" d="M1027.500 398.700H1033.700V401H1027.500ZM1027 431.200H1030V436.700H1027Z"/>
</g>
<!-- m_99_labels.svg -->
<g id="labels">
<text class="cn" x="235.4" y="47.7" textLength="56.3" lengthAdjust="spacingAndGlyphs">螺旋上料机</text>
<path class="l" d="M291.7 48.2H235.4L216.7 66.2"/>
<text class="cn" x="470.8" y="76.1" textLength="55.9" lengthAdjust="spacingAndGlyphs">双层干燥箱</text>
<path class="l" d="M526.7 76.7H470.8L437.5 105.0"/>
<text class="cn" x="730.0" y="117.8" textLength="56.3" lengthAdjust="spacingAndGlyphs">双筒调味机</text>
<path class="l" d="M786.3 118.5H730.0L697.0 155.7"/>
<text class="cn" x="896.2" y="140.3" textLength="55.8" lengthAdjust="spacingAndGlyphs">冷却输送机</text>
<path class="l" d="M952.0 141.0H896.2L866.2 180.0"/>
<text class="cn" x="281.0" y="237.8" textLength="44.0" lengthAdjust="spacingAndGlyphs">膨化主机</text>
<path class="l" d="M325.0 239.0H281.0L249.0 203.5"/>
<text class="cn" x="246.2" y="316.0" textLength="33.3" lengthAdjust="spacingAndGlyphs">拌粉机</text>
<path class="l" d="M279.5 317.0H246.2L227.5 347.5"/>
<text class="cn" x="235.0" y="412.3" textLength="56.7" lengthAdjust="spacingAndGlyphs">螺旋上料机</text>
<path class="l" d="M291.7 413.0H235.0L217.0 430.0"/>
<text class="cn" x="545.0" y="354.3" textLength="56.2" lengthAdjust="spacingAndGlyphs">双层干燥箱</text>
<path class="l" d="M601.2 355.0H545.0L512.0 383.7"/>
<text class="cn" x="730.0" y="373.5" textLength="56.3" lengthAdjust="spacingAndGlyphs">双筒调味机</text>
<path class="l" d="M786.3 374.3H730.0L697.0 410.7"/>
<text class="cn" x="671.2" y="456.8" textLength="33.8" lengthAdjust="spacingAndGlyphs">提升机</text>
<path class="l" d="M705.0 457.7H671.2L642.5 412.5"/>
<text class="cn" x="896.2" y="457.3" textLength="56.3" lengthAdjust="spacingAndGlyphs">冷却输送机</text>
<path class="l" d="M952.5 458.3H896.2L877.5 420.0"/>
<text class="cn" x="281.0" y="556.4" textLength="44.4" lengthAdjust="spacingAndGlyphs">膨化主机</text>
<path class="l" d="M325.4 557.5H281.0L248.6 529.5"/>
<text class="cn" x="415.5" y="572.6" textLength="55.7" lengthAdjust="spacingAndGlyphs">风送除尘机</text>
<path class="l" d="M480.0 573.3H415.5L385.0 525.0"/>
</g>

<!-- WATERMARK -->
<g id="wm" font-weight="700" opacity=".088">
<text class="wm" x="0" y="0" font-size="345" font-weight="400" stroke="#f02010" stroke-width="11" stroke-linejoin="round" vector-effect="non-scaling-stroke" transform="translate(336 402) scale(1.17 .98)">C</text>
<text class="wm" x="0" y="0" font-size="350" transform="translate(600.8 405.5) scale(1.15 1.005)">Y</text>
</g>
</svg>
<div id="edge"></div><div id="edgemark"></div>
<div id="totop"><svg width="32" height="32" viewBox="0 0 32 32"><path d="M8.8 19.2L16.5 11.2L24.3 19.2" fill="none" stroke="#fff" stroke-width="1.5"/></svg></div>
<div id="frame"></div>
</body>
</html>
